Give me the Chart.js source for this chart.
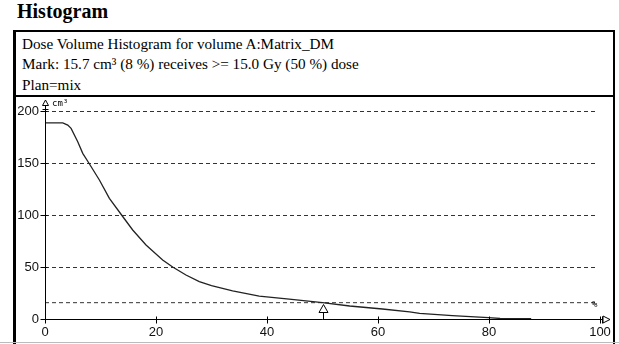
<!DOCTYPE html>
<html><head><meta charset="utf-8">
<script src="https://cdn.jsdelivr.net/npm/chart.js@4"></script>
<style>
body{margin:0;width:619px;height:344px;background:#fff;position:relative;overflow:hidden;}
#title{position:absolute;left:17px;top:0px;font-weight:bold;font-size:20px;font-family:"Liberation Serif","Times New Roman","DejaVu Serif",serif;color:#000;}
#box{position:absolute;left:13px;top:30px;width:597px;height:330px;border-left:3px solid #000;border-top:2px solid #000;border-right:2px solid #000;}
#sep{position:absolute;left:13px;top:95px;width:601px;height:2px;background:#000;}
.l{position:absolute;left:22px;font-size:15.2px;font-family:"Liberation Serif","Times New Roman","DejaVu Serif",serif;color:#000;white-space:nowrap;}
#bot{position:absolute;left:0;top:342px;width:619px;height:1px;background:#bbb;}
#cv{position:absolute;left:0;top:97px;}
.s{position:absolute;font-size:9px;font-family:"DejaVu Sans Mono",monospace;color:#000;}
</style></head><body>
<div id="title">Histogram</div>
<div id="box"></div>
<div id="sep"></div>
<div class="l" style="top:35px">Dose Volume Histogram for volume A:Matrix_DM</div>
<div class="l" style="top:55px">Mark: 15.7 cm³ (8 %) receives &gt;= 15.0 Gy (50 %) dose</div>
<div class="l" style="top:76px">Plan=mix</div>
<div id="bot"></div>
<canvas id="cv" width="612" height="245"></canvas>
<div class="s" style="left:52px;top:98px">cm³</div>
<div class="s" style="left:592px;top:299px">%</div>
<script>
const doses   = [0, 3.2, 4.1, 4.7, 5.9, 6.8, 7.9, 9.8, 11.6, 13.8, 15.8, 18.2, 21.2, 23.0, 25.4, 27.8, 30.0, 33.8, 38.6, 44.0, 50.0, 54.9, 60.8, 65.7, 67.5, 73.4, 79.9, 82.0, 87.6];
const volumes = [188.5, 188.5, 186.5, 183.3, 170.5, 159.3, 150, 133.7, 116, 100, 85.6, 71.2, 56.7, 50, 42.3, 36, 32, 27, 22, 19.2, 15.7, 12.5, 9.6, 6.8, 5.5, 3.2, 1.3, 0.5, 0.3];
const xTicks = [0, 20, 40, 60, 80, 100];
const yTicks = [0, 50, 100, 150, 200];
const markDose = 50;
const markVolume = 15.7;

const curve = doses.map((d, i) => ({x: d, y: volumes[i]}));
const markLine = [{x: 0, y: markVolume}, {x: 99.3, y: markVolume}];

const deco = {
  id: 'deco',
  beforeDatasetsDraw(chart) {
    const {ctx, scales: {x, y}} = chart;
    ctx.save();
    ctx.strokeStyle = '#333';
    ctx.lineWidth = 1;
    ctx.setLineDash([4, 3]);
    yTicks.forEach(v => {
      if (v === 0) return;
      const py = Math.round(y.getPixelForValue(v)) + 0.5;
      ctx.beginPath();
      ctx.moveTo(x.getPixelForValue(0), py);
      ctx.lineTo(x.getPixelForValue(99.3), py);
      ctx.stroke();
    });
    ctx.restore();
  },
  afterDatasetsDraw(chart) {
    const {ctx, scales: {x, y}} = chart;
    ctx.save();
    ctx.strokeStyle = '#000';
    ctx.fillStyle = '#fff';
    ctx.lineWidth = 1;
    ctx.setLineDash([]);
    const x0 = Math.round(x.getPixelForValue(0)) + 0.5;
    const y0 = Math.round(y.getPixelForValue(0)) + 0.5;
    const yTop = y.getPixelForValue(200);
    const xEnd = x.getPixelForValue(100);
    // y axis
    ctx.beginPath(); ctx.moveTo(x0, y0 + 4); ctx.lineTo(x0, yTop - 5); ctx.stroke();
    ctx.beginPath(); ctx.moveTo(x0, yTop - 11); ctx.lineTo(x0 - 3, yTop - 5.5); ctx.lineTo(x0 + 3, yTop - 5.5); ctx.closePath(); ctx.fill(); ctx.stroke();
    // x axis
    ctx.beginPath(); ctx.moveTo(x0 - 4, y0); ctx.lineTo(xEnd + 3, y0); ctx.stroke();
    ctx.beginPath(); ctx.moveTo(xEnd + 10, y0); ctx.lineTo(xEnd + 3, y0 - 3.5); ctx.lineTo(xEnd + 3, y0 + 3.5); ctx.closePath(); ctx.fill(); ctx.stroke();
    // y ticks
    yTicks.forEach(v => {
      const py = Math.round(y.getPixelForValue(v)) + 0.5;
      ctx.beginPath(); ctx.moveTo(x0 - 5, py); ctx.lineTo(x0 + 2, py); ctx.stroke();
      if (v === 200) { ctx.beginPath(); ctx.moveTo(x0 - 3, py - 2); ctx.lineTo(x0 + 3, py - 2); ctx.stroke(); }
    });
    // x ticks
    xTicks.forEach(v => {
      if (v === 0) return;
      const px = Math.round(x.getPixelForValue(v)) + 0.5;
      ctx.beginPath(); ctx.moveTo(px, y0 - 3); ctx.lineTo(px, y0 + 4); ctx.stroke();
      if (v === 100) { ctx.beginPath(); ctx.moveTo(px + 2, y0 - 3); ctx.lineTo(px + 2, y0 + 4); ctx.stroke(); }
    });
    // mark
    const mx = Math.round(x.getPixelForValue(markDose)) + 0.5;
    ctx.beginPath(); ctx.moveTo(mx, y0); ctx.lineTo(mx, y0 - 7); ctx.stroke();
    ctx.beginPath(); ctx.moveTo(mx, y0 - 15); ctx.lineTo(mx - 4.5, y0 - 7); ctx.lineTo(mx + 4.5, y0 - 7); ctx.closePath(); ctx.fill(); ctx.stroke();
    ctx.restore();
  }
};

new Chart(document.getElementById('cv'), {
  type: 'line',
  data: {
    datasets: [
      {data: curve, borderColor: '#222', borderWidth: 1.3, pointRadius: 0, tension: 0, fill: false},
      {data: markLine, borderColor: '#333', borderWidth: 1, borderDash: [4, 3], pointRadius: 0, fill: false}
    ]
  },
  options: {
    responsive: false,
    animation: false,
    events: [],
    layout: {padding: {left: 0, right: 12, top: 14, bottom: 0}},
    plugins: {legend: {display: false}, tooltip: {enabled: false}},
    scales: {
      x: {
        type: 'linear', min: 0, max: 100,
        afterFit(s) { s.height = 23; s.paddingLeft = 0; s.paddingRight = 0; },
        afterBuildTicks(s) { s.ticks = xTicks.map(v => ({value: v})); },
        grid: {display: false, drawTicks: false},
        border: {display: false},
        ticks: {padding: 6, color: '#111', font: {family: 'Liberation Sans', size: 13}, maxRotation: 0, autoSkip: false}
      },
      y: {
        type: 'linear', min: 0, max: 200,
        afterFit(s) { s.width = 45; s.paddingTop = 0; s.paddingBottom = 0; },
        afterBuildTicks(s) { s.ticks = yTicks.map(v => ({value: v})); },
        grid: {display: false, drawTicks: false},
        border: {display: false},
        ticks: {padding: 6, color: '#111', font: {family: 'Liberation Sans', size: 13}}
      }
    }
  },
  plugins: [deco]
});
</script>
</body></html>
